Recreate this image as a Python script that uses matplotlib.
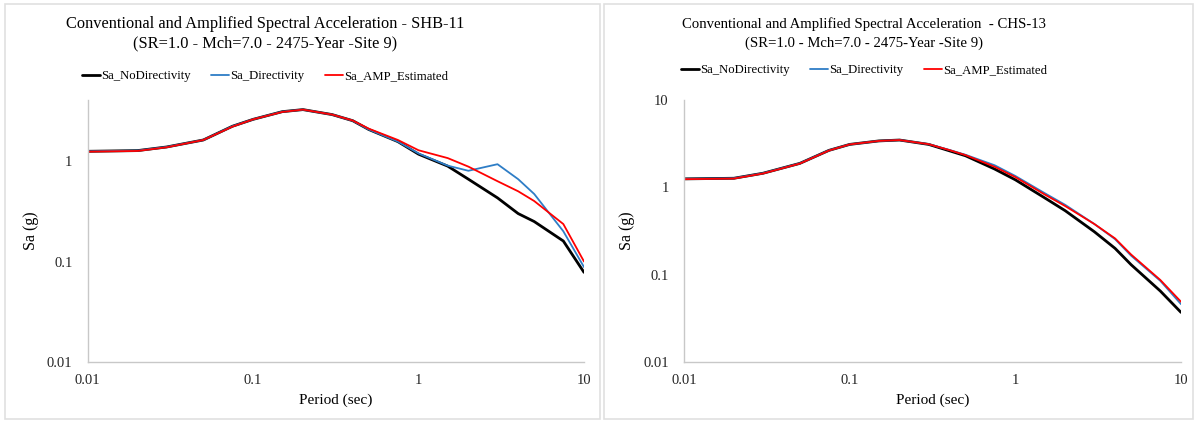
import matplotlib.pyplot as plt
from matplotlib.patches import Rectangle

# periodos (sec)
period = [0.01, 0.02, 0.03, 0.05, 0.075, 0.1, 0.15, 0.2, 0.3, 0.4, 0.5,
          0.75, 1, 1.5, 2, 3, 4, 5, 7.5, 10]

# SHB-11
shb_nodir = [1.25, 1.27, 1.38, 1.62, 2.22, 2.6, 3.1, 3.25, 2.9, 2.52, 2.06,
             1.56, 1.17, 0.89, 0.66, 0.43, 0.30, 0.25, 0.16, 0.078]
shb_dir = [1.25, 1.27, 1.38, 1.62, 2.22, 2.6, 3.1, 3.25, 2.9, 2.52, 2.06,
           1.56, 1.19, 0.90, 0.80, 0.93, 0.66, 0.47, 0.20, 0.088]
shb_amp = [1.24, 1.26, 1.37, 1.62, 2.2, 2.6, 3.08, 3.25, 2.9, 2.53, 2.1,
           1.62, 1.28, 1.07, 0.88, 0.63, 0.50, 0.40, 0.236, 0.100]

# CHS-13
chs_nodir = [1.25, 1.27, 1.45, 1.88, 2.65, 3.1, 3.4, 3.48, 3.1, 2.62, 2.3,
             1.62, 1.22, 0.76, 0.54, 0.31, 0.20, 0.13, 0.065, 0.037]
chs_dir = [1.25, 1.27, 1.45, 1.88, 2.65, 3.1, 3.4, 3.48, 3.12, 2.68, 2.36,
           1.79, 1.35, 0.86, 0.63, 0.38, 0.255, 0.165, 0.085, 0.046]
chs_amp = [1.24, 1.26, 1.44, 1.87, 2.64, 3.1, 3.4, 3.48, 3.12, 2.67, 2.34,
           1.72, 1.31, 0.83, 0.61, 0.38, 0.26, 0.17, 0.087, 0.049]

series_labels = ["Sa_NoDirectivity", "Sa_Directivity", "Sa_AMP_Estimated"]
series_colors = ["#000000", "#2E7DC6", "#FF0000"]
series_widths = [2.0, 1.3, 1.3]

x_ticks = [0.01, 0.1, 1, 10]
x_tick_labels = ["0.01", "0.1", "1", "10"]

plt.rcParams["font.family"] = ["Liberation Serif", "DejaVu Serif"]


def draw_panel(fig, rect, data, title_lines, title_x, title_size, legend_y, ylim, y_ticks, y_tick_labels):
    ax = fig.add_axes(rect)
    for values, label, color, lw in zip(data, series_labels, series_colors, series_widths):
        ax.plot(period, values, color=color, lw=lw, label=label,
                solid_joinstyle="round", solid_capstyle="round")

    ax.set_xscale("log")
    ax.set_yscale("log")
    ax.set_xlim(0.01, 10)
    ax.set_ylim(*ylim)
    ax.set_xticks(x_ticks)
    ax.set_xticklabels(x_tick_labels)
    ax.set_yticks(y_ticks)
    ax.set_yticklabels(y_tick_labels)
    ax.minorticks_off()
    ax.tick_params(axis="both", length=0, labelsize=10.5, colors="#262626")
    ax.tick_params(axis="x", pad=9)
    ax.tick_params(axis="y", pad=11)

    for side in ["top", "right"]:
        ax.spines[side].set_visible(False)
    for side in ["left", "bottom"]:
        ax.spines[side].set_color("#c8c8c8")
        ax.spines[side].set_linewidth(1.0)

    ax.set_xlabel("Period (sec)", fontsize=11, labelpad=4)
    ax.set_ylabel("Sa (g)", fontsize=11.5)
    ax.yaxis.set_label_coords(-49 / (rect[2] * 1196), 0.5)

    fig.text(title_x, 1 - 24 / 421, title_lines[0], ha="center", va="center", fontsize=title_size)
    fig.text(title_x, 1 - 43 / 421, title_lines[1], ha="center", va="center", fontsize=title_size)

    ax.legend(loc="center", bbox_to_anchor=(title_x, legend_y), bbox_transform=fig.transFigure,
              ncol=3, frameon=False, fontsize=9.2, handlelength=1.4, handletextpad=0.1,
              columnspacing=1.6)
    return ax


def main():
    fig = plt.figure(figsize=(11.96, 4.21), dpi=100)

    # bordes de los paneles
    fig.patches.append(Rectangle((5 / 1196, 2 / 421), 595 / 1196, 415 / 421, transform=fig.transFigure,
                                 fill=False, edgecolor="#e0e0e0", lw=1.2))
    fig.patches.append(Rectangle((604 / 1196, 2 / 421), 589 / 1196, 415 / 421, transform=fig.transFigure,
                                 fill=False, edgecolor="#e0e0e0", lw=1.2))

    bottom = 59 / 421
    height = 262 / 421

    draw_panel(
        fig, [87.7 / 1196, bottom, 496.3 / 1196, height],
        [shb_nodir, shb_dir, shb_amp],
        ["Conventional and Amplified Spectral Acceleration - SHB-11",
         "(SR=1.0 - Mch=7.0 - 2475-Year -Site 9)"],
        265 / 1196, 11.8, 1 - 76 / 421,
        (0.01, 4.05), [0.01, 0.1, 1], ["0.01", "0.1", "1"]
    )

    draw_panel(
        fig, [684 / 1196, bottom, 497 / 1196, height],
        [chs_nodir, chs_dir, chs_amp],
        ["Conventional and Amplified Spectral Acceleration  - CHS-13",
         "(SR=1.0 - Mch=7.0 - 2475-Year -Site 9)"],
        864 / 1196, 10.6, 1 - 70 / 421,
        (0.01, 10), [0.01, 0.1, 1, 10], ["0.01", "0.1", "1", "10"]
    )

    fig.savefig("out.png", dpi=100)
    plt.close(fig)


if __name__ == "__main__":
    main()
